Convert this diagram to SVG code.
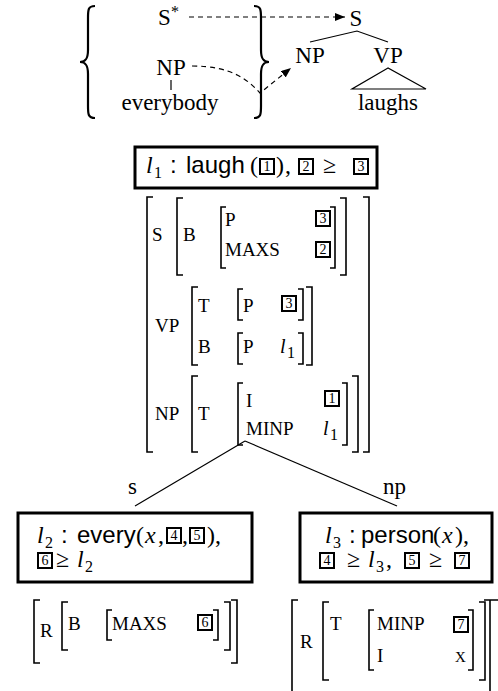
<svg xmlns="http://www.w3.org/2000/svg" width="498" height="691" viewBox="0 0 498 691">
  <style>
    .t { font-family: "Liberation Serif", "Times New Roman", serif; fill: #000; }
    .tree { font-size: 23px; }
    .avm { font-size: 19px; }
    .sf { font-family: "Liberation Sans", Arial, sans-serif; fill: #000; font-size: 24px; }
    .it { font-style: italic; }
    .sub { font-size: 16px; }
    .mid { text-anchor: middle; }
    .frame { fill: #fff; stroke: #000; stroke-width: 3; }
    .tag rect { fill: none; stroke: #000; stroke-width: 2; }
    .tag text { font-family: "Liberation Serif", serif; font-size: 14px; text-anchor: middle; fill: #000; }
    .br { fill: none; stroke: #000; stroke-width: 1.6; }
    .brace { fill: none; stroke: #000; stroke-width: 2.2; }
    .edge { fill: none; stroke: #000; stroke-width: 1.2; }
    .dash { fill: none; stroke: #000; stroke-width: 1.2; stroke-dasharray: 5 4; }
  </style>
  <defs>
    <marker id="arrow" viewBox="0 0 10 8" refX="10" refY="4" markerWidth="10" markerHeight="8" markerUnits="userSpaceOnUse" orient="auto">
      <path d="M0,0 L10,4 L0,8 Z" fill="#000"/>
    </marker>
  </defs>

  <!-- elementary trees in braces -->
  <g id="elementary-trees">
    <path class="brace" d="M95,6 C88,6 88,10 88,18 L88,50 C88,58 86,62 80,62 C86,62 88,66 88,74 L88,106 C88,114 88,118 95,118"/>
    <path class="brace" d="M254,6 C261,6 261,10 261,18 L261,50 C261,58 263,62 269,62 C263,62 261,66 261,74 L261,106 C261,114 261,118 254,118"/>
    <g id="s-star">
      <text class="t tree" x="158" y="25">S</text>
      <text class="t" x="171" y="17" font-size="16">*</text>
    </g>
    <g id="np-everybody">
      <text class="t tree mid" x="171" y="75">NP</text>
      <line class="edge" x1="171" y1="80" x2="171" y2="90"/>
      <text class="t tree mid" x="170" y="110">everybody</text>
    </g>
  </g>

  <!-- derived tree -->
  <g id="derived-tree">
    <text class="t tree mid" x="356" y="26">S</text>
    <text class="t tree mid" x="310" y="63">NP</text>
    <text class="t tree mid" x="388" y="63">VP</text>
    <polyline class="edge" points="310,42 357,31 388,42"/>
    <path class="edge" d="M388,68 L352,89 L426,89 Z"/>
    <text class="t tree mid" x="388" y="110">laughs</text>
  </g>

  <!-- dashed substitution / adjunction links, and the derivation edges -->
  <g id="connectors">
    <line class="dash" x1="189" y1="17" x2="345" y2="17" marker-end="url(#arrow)"/>
    <path class="dash" d="M192,66 C232,66 248,80 260,93 L291,68" marker-end="url(#arrow)"/>
    <line class="edge" x1="245" y1="441" x2="135" y2="506"/>
    <line class="edge" x1="245" y1="441" x2="397" y2="506"/>
    <text class="t tree" x="128" y="494">s</text>
    <text class="t tree" x="383" y="494">np</text>
  </g>

  <!-- semantic representation of "laughs" -->
  <g id="sem-laugh">
    <rect class="frame" x="135" y="147" width="242" height="41"/>
    <text class="t it" x="146" y="173" font-size="24">l</text>
    <text class="t sub" x="154" y="178">1</text>
    <text class="sf" x="170" y="173">:</text>
    <text class="sf" x="186" y="173" font-size="26">laugh</text>
    <text class="t" x="250" y="173" font-size="24">(</text>
    <g class="tag"><rect x="260" y="159" width="14" height="15"/><text x="267" y="171">1</text></g>
    <text class="t" x="276" y="173" font-size="24">)</text>
    <text class="t" x="285" y="173" font-size="24">,</text>
    <g class="tag"><rect x="299" y="159" width="14" height="15"/><text x="306" y="171">2</text></g>
    <text class="t" x="323" y="173" font-size="24">≥</text>
    <g class="tag"><rect x="354" y="159" width="14" height="15"/><text x="361" y="171">3</text></g>
  </g>

  <!-- feature structure of "laughs" -->
  <g id="fs-laugh">
    <path class="br" d="M153,197 H147 V452 H153"/>
    <path class="br" d="M363,197 H369 V452 H363"/>
    <!-- S -->
    <text class="t avm" x="152" y="241">S</text>
    <path class="br" d="M183,198 H177 V275 H183"/>
    <path class="br" d="M340,198 H346 V275 H340"/>
    <text class="t avm" x="183" y="241">B</text>
    <path class="br" d="M226,207 H221 V268 H226"/>
    <path class="br" d="M330,207 H335 V268 H330"/>
    <text class="t avm" x="225" y="226">P</text>
    <text class="t avm" x="225" y="256">MAXS</text>
    <g class="tag"><rect x="316" y="211" width="14" height="15"/><text x="323" y="223">3</text></g>
    <g class="tag"><rect x="316" y="242" width="14" height="15"/><text x="323" y="254">2</text></g>
    <!-- VP -->
    <text class="t avm" x="155" y="332">VP</text>
    <path class="br" d="M198,287 H192 V365 H198"/>
    <path class="br" d="M306,287 H312 V365 H306"/>
    <text class="t avm" x="198" y="312">T</text>
    <path class="br" d="M243,289 H238 V320 H243"/>
    <path class="br" d="M298,289 H303 V320 H298"/>
    <text class="t avm" x="243" y="312">P</text>
    <g class="tag"><rect x="282" y="296" width="14" height="15"/><text x="289" y="308">3</text></g>
    <text class="t avm" x="198" y="353">B</text>
    <path class="br" d="M243,333 H238 V364 H243"/>
    <path class="br" d="M298,333 H303 V364 H298"/>
    <text class="t avm" x="243" y="353">P</text>
    <text class="t it" x="280" y="353" font-size="20">l</text>
    <text class="t sub" x="287" y="358" font-size="14">1</text>
    <!-- NP -->
    <text class="t avm" x="155" y="420">NP</text>
    <path class="br" d="M198,376 H192 V452 H198"/>
    <path class="br" d="M352,376 H358 V452 H352"/>
    <text class="t avm" x="198" y="420">T</text>
    <path class="br" d="M243,383 H238 V445 H243"/>
    <path class="br" d="M342,383 H347 V445 H342"/>
    <text class="t avm" x="246" y="407">I</text>
    <g class="tag"><rect x="325" y="391" width="14" height="15"/><text x="332" y="403">1</text></g>
    <text class="t avm" x="246" y="435">MINP</text>
    <text class="t it" x="323" y="435" font-size="20">l</text>
    <text class="t sub" x="330" y="440" font-size="14">1</text>
  </g>

  <!-- semantic representation of "everybody", quantifier part -->
  <g id="sem-every">
    <rect class="frame" x="18" y="513" width="234" height="69"/>
    <text class="t it" x="37" y="543" font-size="24">l</text>
    <text class="t sub" x="45" y="548">2</text>
    <text class="sf" x="61" y="543">:</text>
    <text class="sf" x="77" y="543">every</text>
    <text class="t" x="136" y="543" font-size="24">(</text>
    <text class="t it" x="145" y="543" font-size="24">x</text>
    <text class="t" x="158" y="543" font-size="24">,</text>
    <g class="tag"><rect x="167" y="528" width="14" height="15"/><text x="174" y="540">4</text></g>
    <text class="t" x="182" y="543" font-size="24">,</text>
    <g class="tag"><rect x="190" y="528" width="14" height="15"/><text x="197" y="540">5</text></g>
    <text class="t" x="207" y="543" font-size="24">),</text>
    <g class="tag"><rect x="38" y="553" width="14" height="15"/><text x="45" y="565">6</text></g>
    <text class="t" x="56" y="567" font-size="24">≥</text>
    <text class="t it" x="77" y="567" font-size="24">l</text>
    <text class="t sub" x="85" y="572">2</text>
  </g>

  <!-- semantic representation of "everybody", restriction part -->
  <g id="sem-person">
    <rect class="frame" x="300" y="513" width="192" height="69"/>
    <text class="t it" x="325" y="543" font-size="24">l</text>
    <text class="t sub" x="333" y="548">3</text>
    <text class="sf" x="349" y="543">:</text>
    <text class="sf" x="361" y="543" font-size="23">person</text>
    <text class="t" x="433" y="543" font-size="24">(</text>
    <text class="t it" x="442" y="543" font-size="24">x</text>
    <text class="t" x="455" y="543" font-size="24">),</text>
    <g class="tag"><rect x="320" y="553" width="14" height="15"/><text x="327" y="565">4</text></g>
    <text class="t" x="347" y="567" font-size="24">≥</text>
    <text class="t it" x="368" y="567" font-size="24">l</text>
    <text class="t sub" x="376" y="572">3</text>
    <text class="t" x="386" y="567" font-size="24">,</text>
    <g class="tag"><rect x="405" y="553" width="14" height="15"/><text x="412" y="565">5</text></g>
    <text class="t" x="429" y="567" font-size="24">≥</text>
    <g class="tag"><rect x="455" y="553" width="14" height="15"/><text x="462" y="565">7</text></g>
  </g>

  <!-- feature structure of the quantifier part -->
  <g id="fs-every">
    <path class="br" d="M40,600 H34 V663 H40"/>
    <path class="br" d="M231,600 H237 V663 H231"/>
    <text class="t avm" x="40" y="637">R</text>
    <path class="br" d="M68,602 H62 V650 H68"/>
    <path class="br" d="M224,602 H230 V650 H224"/>
    <text class="t avm" x="68" y="630">B</text>
    <path class="br" d="M112,610 H107 V640 H112"/>
    <path class="br" d="M213,610 H218 V640 H213"/>
    <text class="t avm" x="112" y="630">MAXS</text>
    <g class="tag"><rect x="198" y="615" width="14" height="15"/><text x="205" y="627">6</text></g>
  </g>

  <!-- feature structure of the restriction part -->
  <g id="fs-person">
    <path class="br" d="M298,600 H292 V695"/>
    <path class="br" d="M484,600 H498 M490,600 V695"/>
    <text class="t avm" x="300" y="648">R</text>
    <path class="br" d="M329,602 H323 V680 H329"/>
    <path class="br" d="M479,602 H485 V680 H479"/>
    <text class="t avm" x="330" y="630">T</text>
    <path class="br" d="M374,610 H369 V670 H374"/>
    <path class="br" d="M468,610 H473 V670 H468"/>
    <text class="t avm" x="377" y="630">MINP</text>
    <g class="tag"><rect x="454" y="617" width="14" height="15"/><text x="461" y="629">7</text></g>
    <text class="t avm" x="377" y="662">I</text>
    <text class="t" x="455" y="662" font-size="15">X</text>
  </g>
</svg>
